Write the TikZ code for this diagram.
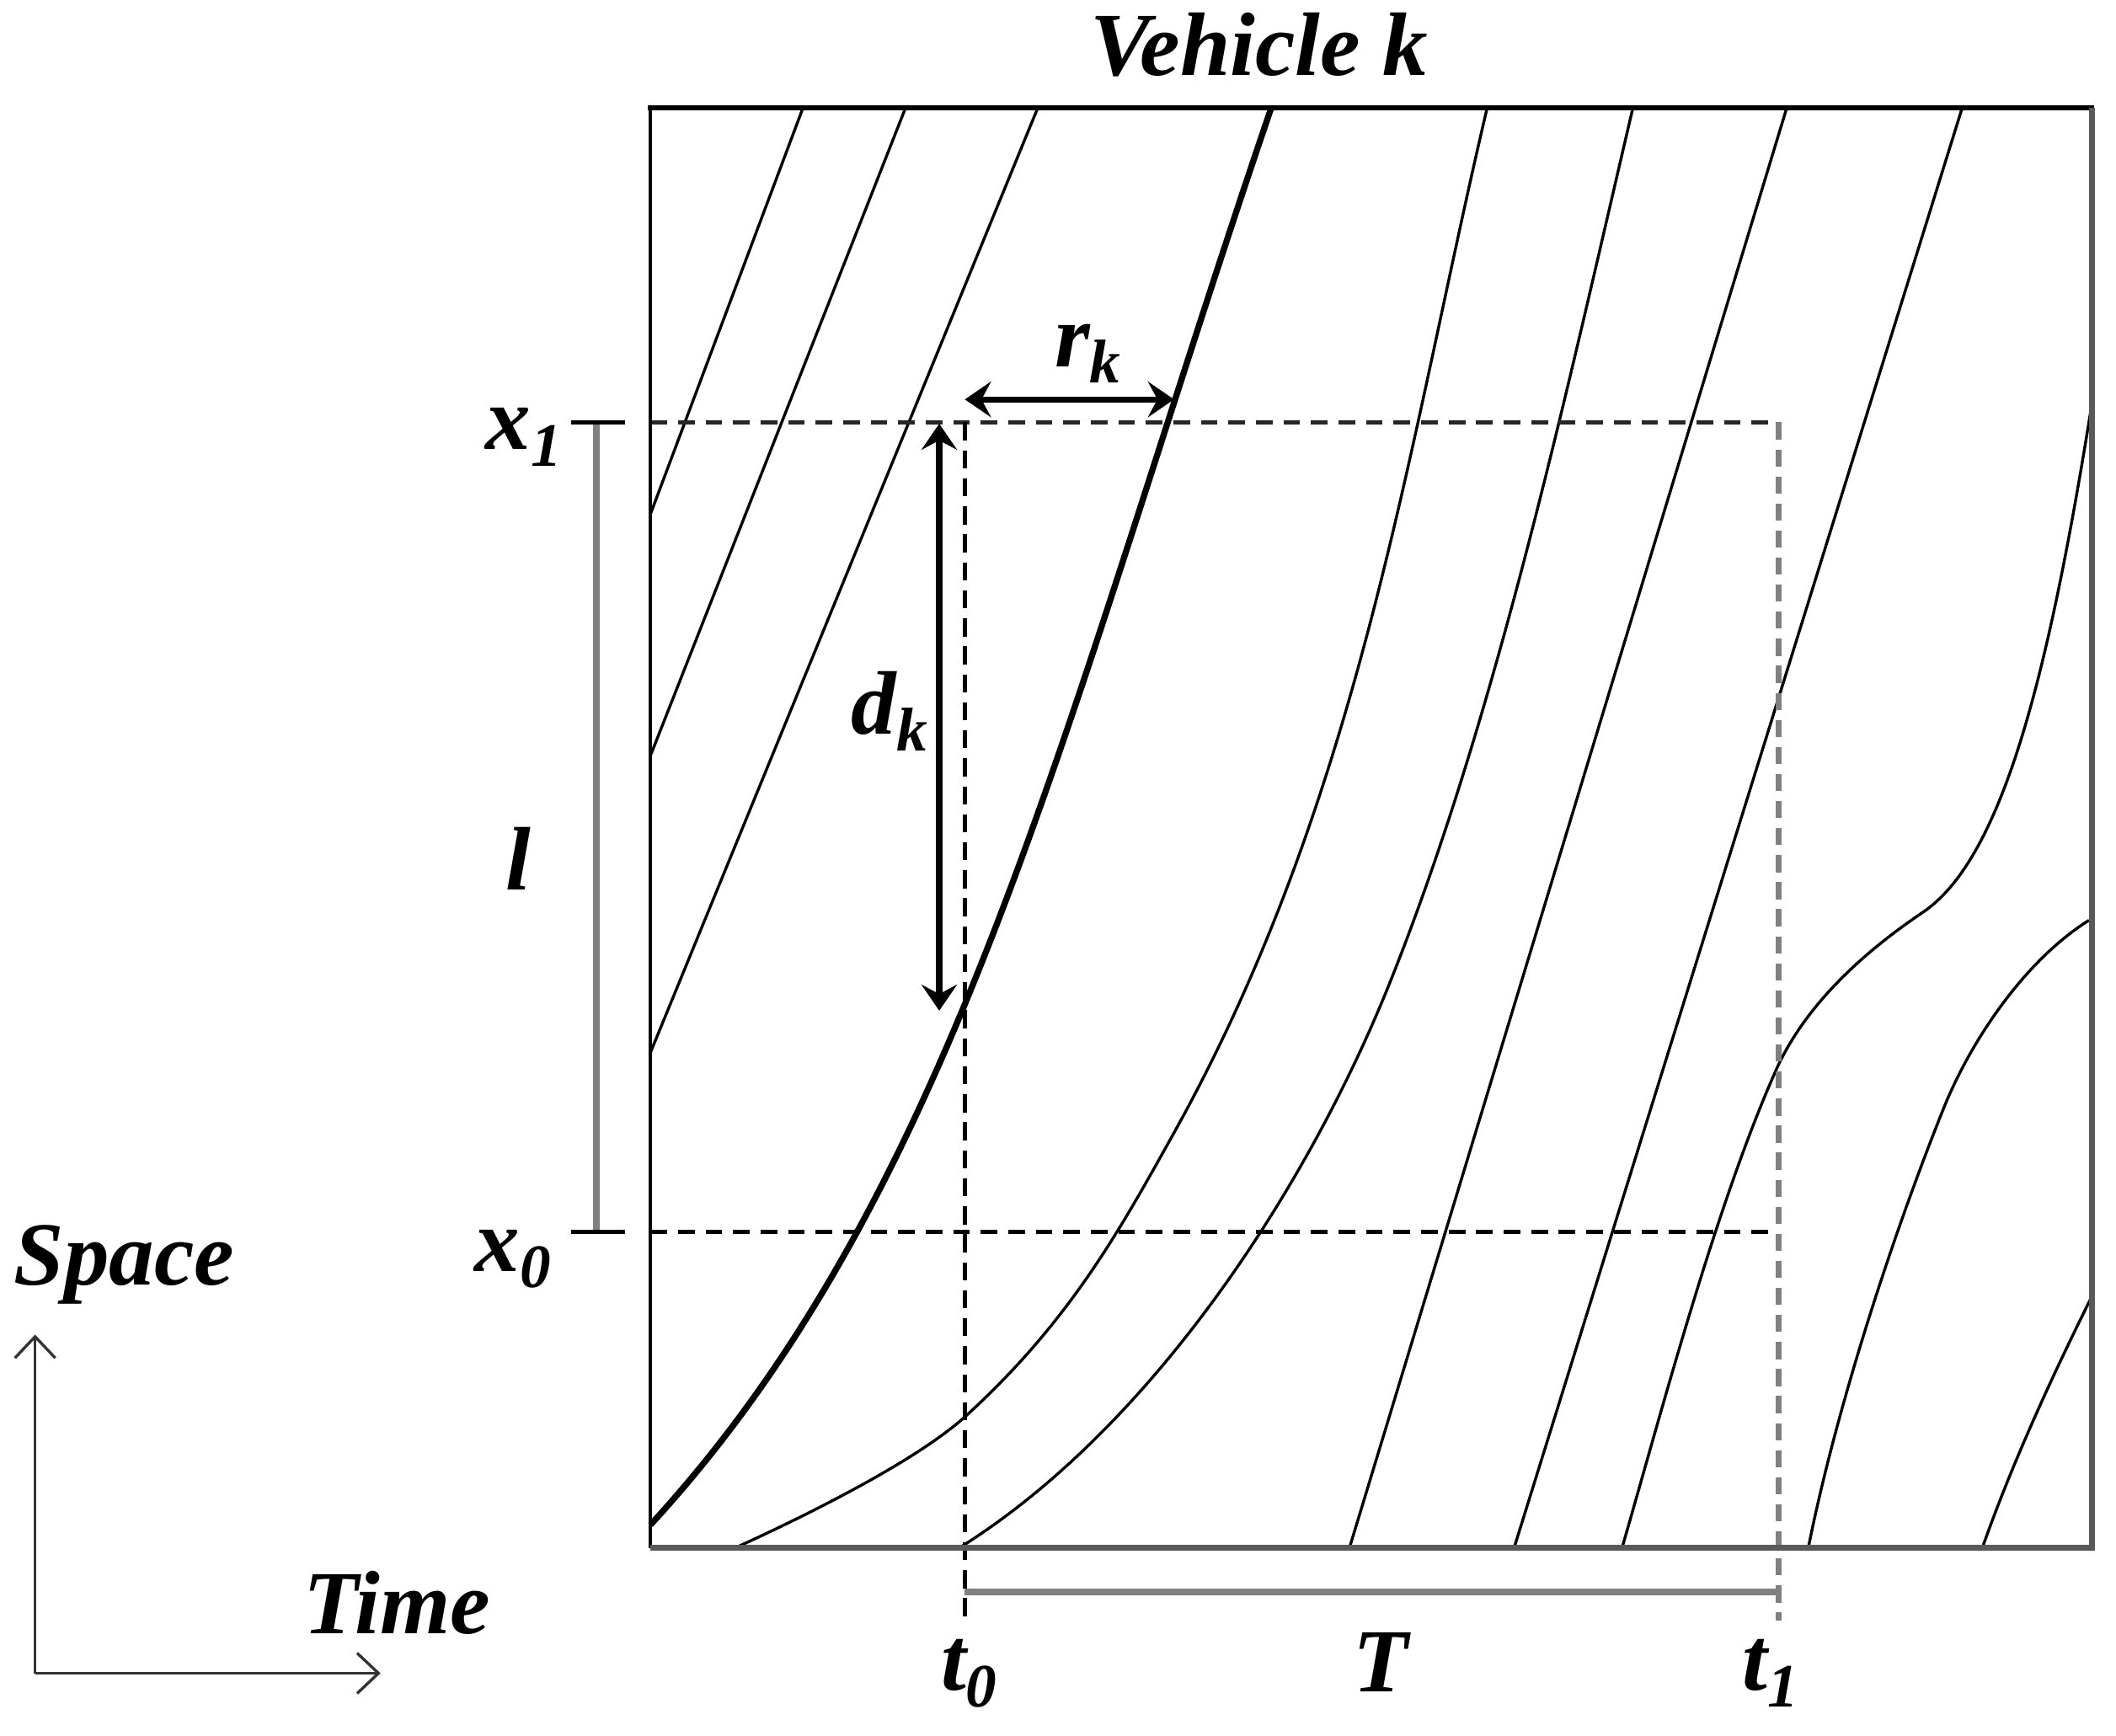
\documentclass[tikz,border=0pt]{standalone}
\usepackage{fontspec}
\setmainfont{Liberation Serif}
\usetikzlibrary{arrows.meta}
\newcommand\lsub[1]{\raisebox{-3.5pt}{\fontsize{13}{13}\selectfont #1}}
\begin{document}
\begin{tikzpicture}[x=0.01cm,y=-0.01cm,
  lab/.style={font=\fontsize{19}{21}\selectfont\bfseries\itshape, inner sep=0pt},
  traj/.style={line width=0.6pt, black},
  lead/.style={line width=1.3pt, black},
  guide/.style={line width=0.9pt, dash pattern=on 3.5pt off 2.3pt},
  bar/.style={line width=1.4pt, color=black!50},
  tickmark/.style={line width=0.9pt, black},
  dimarrow/.style={line width=1.3pt, {Stealth[length=5.5pt,width=7.5pt,inset=2pt]}-{Stealth[length=5.5pt,width=7.5pt,inset=2pt]}},
  axisarrow/.style={line width=0.6pt, color=black!80, -{Straight Barb[length=4.5pt,width=8.5pt]}}
]
\useasboundingbox (0,0) rectangle (1568,1286);

% key coordinates
\coordinate (x1L) at (482,313);
\coordinate (x1R) at (1318,313);
\coordinate (x0L) at (482,913);
\coordinate (x0R) at (1310,913);
\coordinate (t0T) at (715,313);
\coordinate (t0B) at (715,1201);
\coordinate (t1T) at (1318,313);
\coordinate (t1B) at (1318,1201);
\coordinate (TL) at (715,1180);
\coordinate (TR) at (1318,1180);
\coordinate (lT) at (442,313);
\coordinate (lB) at (442,913);
\coordinate (o) at (26,1240);
\coordinate (yax) at (26,989);
\coordinate (xax) at (282,1240);
\coordinate (dT) at (696,314);
\coordinate (dB) at (696,749);
\coordinate (rL) at (715,296);
\coordinate (rR) at (870,296);

% trajectories
\draw[traj] (595,80) -- (482,381);
\draw[traj] (671,80) -- (482,560);
\draw[traj] (769,80) -- (482,780);
% vehicle k
\draw[lead] (942,80) .. controls (790,525) and (712,880) .. (482,1130);
% following vehicles
\draw[traj] (1102,80) .. controls (1043,330) and (1008,593) .. (868,843)
                      .. controls (829,913) and (792,980) .. (715,1050)
                      .. controls (676,1085) and (589,1127) .. (545,1147);
\draw[traj] (1210,80) .. controls (1163,280) and (1110,528) .. (1030,728)
                      .. controls (970,878) and (855,1057) .. (711,1147);
\draw[traj] (1324,80) -- (1000,1147);
\draw[traj] (1454,80) -- (1122,1147);
\draw[traj] (1550,300) .. controls (1518,500) and (1484,636) .. (1425,676)
                      .. controls (1370,713) and (1335,752) .. (1317,791)
                      .. controls (1272,891) and (1231,1047) .. (1202,1147);
\draw[traj] (1548,682) .. controls (1500,712) and (1460,772) .. (1440,822)
                      .. controls (1400,922) and (1360,1047) .. (1340,1147);
\draw[traj] (1550,961) .. controls (1520,1021) and (1490,1087) .. (1469,1147);

% guide lines
\draw[guide, black!85] (x1L) -- (x1R);
\draw[guide, black] (x0L) -- (x0R);
\draw[guide, black, dash pattern=on 3.8pt off 2.1pt] (t0T) -- (t0B);
\draw[guide, black!50, line width=1.3pt, dash pattern=on 3.6pt off 2.1pt] (t1T) -- (t1B);

% box
\draw[line width=0.7pt] (482,1147) -- (482,80);
\draw[line width=1pt] (480,80) -- (1552,80);
\draw[line width=1.3pt, black!65] (482,1147) -- (1550,1147) -- (1550,80);

% brackets
\draw[bar] (TL) -- (TR);
\draw[bar] (lT) -- (lB);
\draw[tickmark] (423,313) -- (463,313);
\draw[tickmark] (423,913) -- (463,913);

% dimension arrows
\draw[dimarrow] (dT) -- (dB);
\draw[dimarrow] (rL) -- (rR);

% axes
\draw[axisarrow] (o) -- (yax);
\draw[axisarrow] (o) -- (xax);

% labels
\node[lab] (title) at (933,33) {Vehicle k};
\node[lab] (lx1) at (388,324) {x\lsub{1}};
\node[lab] (lx0) at (380,933) {x\lsub{0}};
\node[lab] (ll) at (384,636) {l};
\node[lab] (lspace) at (92,937) {Space};
\node[lab] (ltime) at (294,1188) {Time};
\node[lab] (lrk) at (806,262) {r\lsub{k}};
\node[lab] (ldk) at (659,527) {d\lsub{k}};
\node[lab] (lt0) at (718,1240) {t\lsub{0}};
\node[lab] (lT) at (1023,1232) {T};
\node[lab] (lt1) at (1312,1240) {t\lsub{1}};
\end{tikzpicture}
\end{document}
